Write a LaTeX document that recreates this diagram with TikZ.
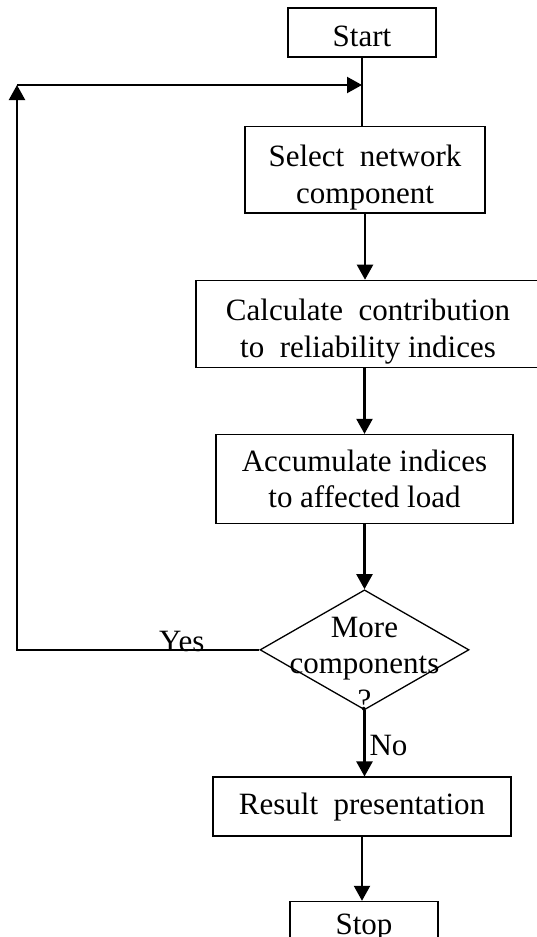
\documentclass[tikz,border=0pt]{standalone}
\usepackage{fontspec}
\setmainfont{Liberation Serif}
\usepackage{tikz}
\usetikzlibrary{positioning, shapes.geometric, arrows.meta, calc}
\newcommand{\flowfont}{\fontsize{31}{36.5}\selectfont}

\begin{document}
\begin{tikzpicture}[
    termbox/.style={draw=black, line width=1.3pt, rectangle, minimum width=148pt, minimum height=49pt, text height=29pt, font=\flowfont, fill=white},
    procbox/.style={draw=black, line width=1.3pt, rectangle, minimum height=86pt, align=center, font=\flowfont, fill=white},
    decision/.style={draw=black, line width=1.3pt, diamond, minimum width=209pt, minimum height=120pt, inner sep=0pt},
    edge/.style={line width=2pt},
    flow/.style={line width=2.2pt, -{Triangle[length=15pt, width=16pt]}},
    varlabel/.style={font=\flowfont, inner sep=0pt}
]
\useasboundingbox (0,0) rectangle (537pt,-937pt);

% Knoten
\node[termbox] (start) at (362pt,-32.5pt) {Start};
\node[procbox, minimum width=240pt, below=68pt of start, xshift=3pt] (select) {\rule{0pt}{37pt}Select~ network\\component};
\node[procbox, minimum width=344pt, minimum height=85pt, below=66pt of select, xshift=3pt] (calc) {\rule{0pt}{37pt}Calculate~ contribution\\to~ reliability indices};
\node[procbox, minimum width=297pt, minimum height=89pt, below=66pt of calc, xshift=-3.5pt] (accum) {Accumulate indices\\to affected load};
\node[decision, below=65pt of accum] (more) {};
\node[varlabel, align=center, yshift=-14pt] (moretext) at (more) {More\\components\\?};
\node[procbox, minimum width=298pt, minimum height=59pt, below=66pt of more, xshift=-2.5pt] (result) {Result~ presentation};
\node[termbox, minimum height=60pt, text depth=23pt, below=64pt of result, xshift=2pt] (stop) {Stop};
\coordinate (turn) at (17pt,-85pt);

% Kanten zwischen Knoten
\draw[edge] (start.south) -- (start.south |- select.north);
\draw[flow] (select.south) -- (select.south |- calc.north);
\draw[flow] (accum.north |- calc.south) -- (accum.north);
\draw[flow] (accum.south) -- (more.north);
\draw[flow] (more.south) -- (more.south |- result.north) node[pos=0.68, anchor=base west, xshift=4pt, varlabel] {No};
\draw[flow] (result.south) -- (result.south |- stop.north);
\draw[flow] (more.west) -| (turn) node[pos=0.16, anchor=base, yshift=-2pt, varlabel] {Yes};
\draw[flow] (turn) -- (turn -| start.south);

\end{tikzpicture}
\end{document}
